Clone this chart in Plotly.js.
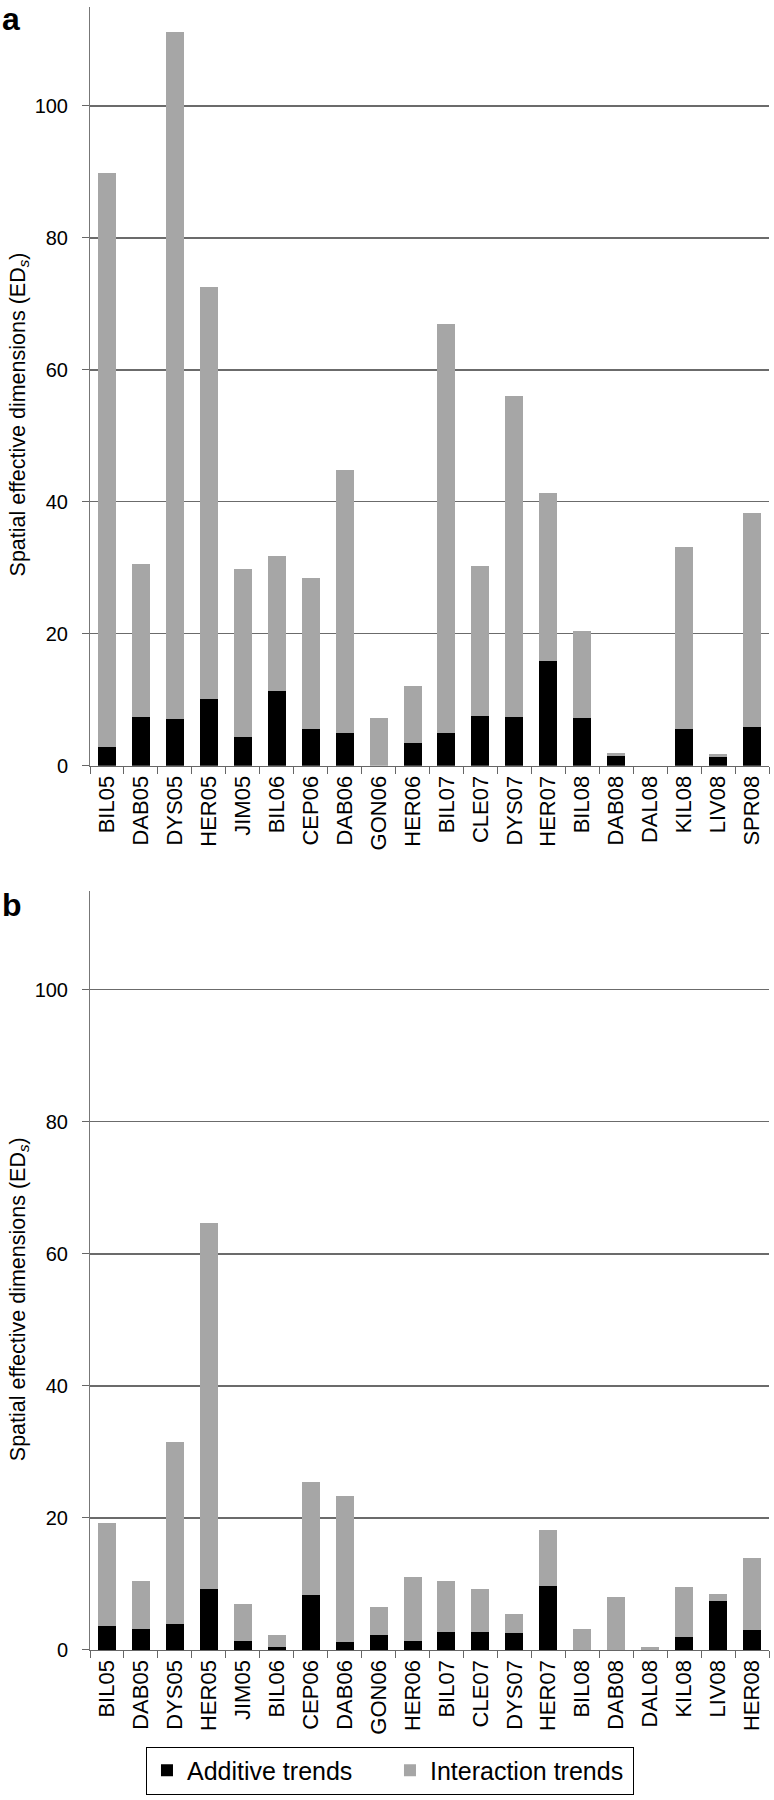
<!DOCTYPE html>
<html><head><meta charset="utf-8">
<script src="https://cdn.plot.ly/plotly-3.0.1.min.js"></script>
<style>html,body{margin:0;padding:0;background:#fff}</style>
</head><body><div id="chart" style="width:774px;height:1800px"></div>
<script>
const categoriesA = ["BIL05","DAB05","DYS05","HER05","JIM05","BIL06","CEP06","DAB06","GON06","HER06","BIL07","CLE07","DYS07","HER07","BIL08","DAB08","DAL08","KIL08","LIV08","SPR08"];
const categoriesB = ["BIL05","DAB05","DYS05","HER05","JIM05","BIL06","CEP06","DAB06","GON06","HER06","BIL07","CLE07","DYS07","HER07","BIL08","DAB08","DAL08","KIL08","LIV08","HER08"];
const additiveA    = [2.8, 7.4, 7.1, 10.1, 4.3, 11.4, 5.5, 5.0, 0, 3.4, 5.0, 7.6, 7.4, 15.9, 7.2, 1.5, 0, 5.6, 1.4, 5.8];
const interactionA = [87.0, 23.2, 104.1, 62.5, 25.5, 20.4, 22.9, 39.8, 7.3, 8.7, 61.9, 22.6, 48.6, 25.4, 13.2, 0.5, 0, 27.5, 0.4, 32.5];
const additiveB    = [3.6, 3.2, 4.0, 9.2, 1.4, 0.4, 8.3, 1.2, 2.2, 1.4, 2.7, 2.8, 2.5, 9.7, 0, 0, 0, 1.9, 7.4, 3.0];
const interactionB = [15.6, 7.2, 27.5, 55.5, 5.5, 1.9, 17.2, 22.2, 4.3, 9.6, 7.7, 6.5, 3.0, 8.5, 3.2, 8.0, 0.45, 7.6, 1.1, 11.0];
const yTickVals = [0, 20, 40, 60, 80, 100];
const seriesNames = ["Additive trends", "Interaction trends"];
const panelLabels = ["a", "b"];
const yTitle = "Spatial effective dimensions (ED<sub><i>s</i></sub>)";

const FONT = "Liberation Sans, Arial, sans-serif";
const BLACK = "#000000";
const GRAY = "#a6a6a6";

const traces = [
  {type:"bar", x:categoriesA, y:additiveA, name:seriesNames[0], marker:{color:BLACK}, xaxis:"x", yaxis:"y", showlegend:false, legendgroup:"add"},
  {type:"bar", x:categoriesA, y:interactionA, name:seriesNames[1], marker:{color:GRAY}, xaxis:"x", yaxis:"y", showlegend:false, legendgroup:"int"},
  {type:"bar", x:categoriesB, y:additiveB, name:seriesNames[0], marker:{color:BLACK}, xaxis:"x2", yaxis:"y2", showlegend:true, legendgroup:"add"},
  {type:"bar", x:categoriesB, y:interactionB, name:seriesNames[1], marker:{color:GRAY}, xaxis:"x2", yaxis:"y2", showlegend:true, legendgroup:"int"}
];

function xAxis(anchor){
  return {anchor:anchor, domain:[0,1], type:"category", tickson:"boundaries", ticks:"outside", ticklen:7, tickcolor:"#666",
    showline:true, linecolor:"#666", linewidth:1.3, showgrid:false, tickangle:-90,
    tickfont:{family:FONT, size:22, color:"#000"}, zeroline:false, fixedrange:true};
}
function yAxis(anchor, dom){
  return {anchor:anchor, domain:dom, range:[0,115], tickvals:yTickVals, ticks:"outside", ticklen:7, tickcolor:"#666",
    showline:true, linecolor:"#777", linewidth:1, showgrid:true, gridcolor:"#6b6b6b", gridwidth:1.3,
    zeroline:false, ticklabelstandoff:10, tickfont:{family:FONT, size:20, color:"#000"}, fixedrange:true};
}

const layout = {
  width:774, height:1800,
  margin:{l:90, r:5, t:7, b:144},
  paper_bgcolor:"#fff", plot_bgcolor:"#fff",
  barmode:"stack", bargap:0.47,
  font:{family:FONT, color:"#000"},
  xaxis: xAxis("y"),
  yaxis: yAxis("x", [0.5382, 1]),
  xaxis2: xAxis("y2"),
  yaxis2: yAxis("x2", [0, 0.4621]),
  legend:{orientation:"h", x:0.4418, xanchor:"center", y:-0.0588, yanchor:"top",
    entrywidth:198, entrywidthmode:"pixels", itemwidth:30,
    bordercolor:"#000", borderwidth:1, font:{family:FONT, size:25, color:"#000"}, traceorder:"normal"},
  annotations:[
    {text:panelLabels[0], xref:"paper", yref:"paper", x:-0.1325, y:1.0046, xanchor:"left", yanchor:"top", showarrow:false, font:{family:FONT, size:32, color:"#000", weight:"bold"}},
    {text:panelLabels[1], xref:"paper", yref:"paper", x:-0.1325, y:0.4536, xanchor:"left", yanchor:"middle", showarrow:false, font:{family:FONT, size:32, color:"#000", weight:"bold"}},
    {text:yTitle, xref:"paper", yref:"paper", x:-0.1046, y:0.752, xanchor:"center", yanchor:"middle", textangle:-90, showarrow:false, font:{family:FONT, size:21.5, color:"#000"}},
    {text:yTitle, xref:"paper", yref:"paper", x:-0.1046, y:0.2135, xanchor:"center", yanchor:"middle", textangle:-90, showarrow:false, font:{family:FONT, size:21.5, color:"#000"}}
  ]
};

Plotly.newPlot("chart", traces, layout, {displayModeBar:false, staticPlot:true});
</script>
</body></html>
